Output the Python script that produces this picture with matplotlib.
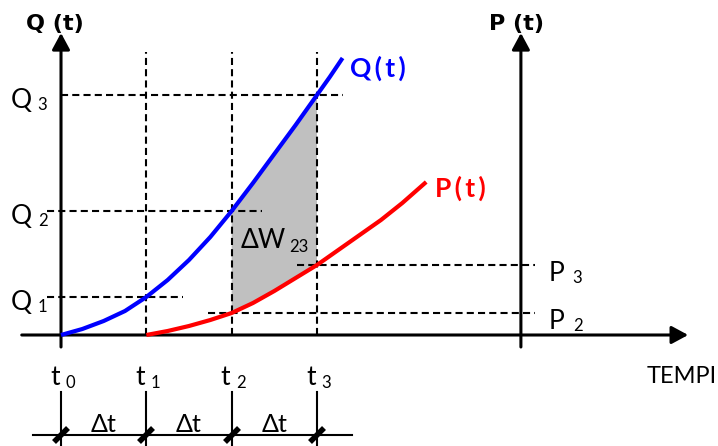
import numpy as np
import matplotlib.pyplot as plt
from matplotlib.markers import MarkerStyle
from matplotlib.transforms import Affine2D

plt.rcParams['font.family'] = ['Lato', 'DejaVu Sans']

# time instants (in units of dt) and their names
t_pos = [0, 1, 2, 3]
t_names = ['0', '1', '2', '3']

# Q(t)
q_t = [0, 0.25, 0.5, 0.75, 1.0, 1.25, 1.5, 1.75, 2.0, 2.25, 2.5, 2.75, 3.0, 3.15, 3.30]
q_val = [0, 0.06, 0.14, 0.24, 0.38, 0.55, 0.75, 0.98, 1.24, 1.52, 1.81, 2.10, 2.40,
         2.58, 2.77]

# P(t) starts at t1
p_t = [1.0, 1.25, 1.5, 1.75, 2.0, 2.25, 2.5, 2.75, 3.0, 3.25, 3.5, 3.75, 4.0, 4.28]
p_val = [0, 0.04, 0.09, 0.15, 0.22, 0.32, 0.44, 0.57, 0.70, 0.85, 1.0, 1.15, 1.32, 1.53]

q_levels = [0.38, 1.24, 2.40]   # Q1, Q2, Q3
p_levels = [0.22, 0.70]         # P2, P3

t_paxis = 5.39  # where the P(t) axis stands

fig = plt.figure(figsize=(7.18, 4.46), dpi=100)
ax = fig.add_axes([0, 0, 1, 1])
ax.set_xlim(-0.715, 7.70)
ax.set_ylim(-1.11, 3.35)
ax.axis('off')

arrow = dict(arrowstyle='-|>,head_length=0.5,head_width=0.27', lw=2.2,
             color='black', mutation_scale=20, shrinkA=0, shrinkB=0)
# axes with arrows
ax.annotate('', xy=(7.35, 0), xytext=(-0.46, 0), arrowprops=arrow)
ax.annotate('', xy=(0, 3.02), xytext=(0, -0.12), arrowprops=arrow)
ax.annotate('', xy=(t_paxis, 3.02), xytext=(t_paxis, -0.12), arrowprops=arrow)

dash = dict(color='black', lw=1.5, ls=(0, (3.4, 2.0)))
# vertical guides at t1..t3
for t in t_pos[1:]:
    ax.plot([t, t], [0, 2.83], **dash)
# Q levels
ax.plot([-0.16, 1.43], [q_levels[0]] * 2, **dash)
ax.plot([-0.16, 2.36], [q_levels[1]] * 2, **dash)
ax.plot([0, 3.30], [q_levels[2]] * 2, **dash)
# P levels
ax.plot([1.72, 5.56], [p_levels[0]] * 2, **dash)
ax.plot([2.77, 5.56], [p_levels[1]] * 2, **dash)

# energy between t2 and t3
q_t_a, q_val_a = np.array(q_t), np.array(q_val)
p_t_a, p_val_a = np.array(p_t), np.array(p_val)
mq = (q_t_a >= 2) & (q_t_a <= 3)
mp = (p_t_a >= 2) & (p_t_a <= 3)
xs = np.concatenate([q_t_a[mq], p_t_a[mp][::-1]])
ys = np.concatenate([q_val_a[mq], p_val_a[mp][::-1]])
ax.fill(xs, ys, color='#c0c0c0', lw=0, zorder=1)

ax.plot(q_t, q_val, color='#0000ff', lw=3, solid_capstyle='butt', zorder=3)
ax.plot(p_t, p_val, color='#ff0000', lw=3, solid_capstyle='butt', zorder=3)

# curve names
ths = '\u2009'
ax.text(3.39, 2.58, ths.join('Q(t)'), color='#0000ff', fontsize=19, fontweight='bold')
ax.text(4.38, 1.38, ths.join('P(t)'), color='#ff0000', fontsize=19, fontweight='bold')

# axis titles
ax.text(-0.41, 3.05, 'Q (t)', fontsize=16, fontweight='bold', family='DejaVu Sans')
ax.text(5.02, 3.05, 'P (t)', fontsize=16, fontweight='bold', family='DejaVu Sans')
ax.text(7.69, -0.48, 'TEMPI', fontsize=17, ha='right')


def sub_label(x, y, main, sub, dx=15, dy=-1.5, size=19):
    ax.annotate(main, (x, y), ha='center', va='baseline', fontsize=size)
    ax.annotate(sub, (x, y), xytext=(dx, dy), textcoords='offset points',
                ha='center', va='baseline', fontsize=12)


for i, lv in enumerate(q_levels):
    sub_label(-0.46, lv - 0.13, 'Q', str(i + 1))
for name, lv in zip(['2', '3'], p_levels):
    sub_label(5.81, lv - 0.16, 'P', name)

ax.text(2.10, 0.87, '\u0394W', fontsize=19, va='baseline')
ax.text(2.68, 0.83, '23', fontsize=12, va='baseline')

# time scale below the chart
for t, name in zip(t_pos, t_names):
    sub_label(t - 0.07, -0.50, 't', name, dx=11, dy=-2)
    ax.plot([t, t], [-0.57, -1.11], color='black', lw=1.5)
ax.plot([-0.33, 3.41], [-1.0, -1.0], color='black', lw=1.5)
slash = MarkerStyle('|', transform=Affine2D().rotate_deg(-45))
ax.plot(t_pos, [-1.0] * len(t_pos), ls='none', marker=slash, ms=15, mew=4,
        color='black')
for a, b in zip(t_pos[:-1], t_pos[1:]):
    ax.text((a + b) / 2, -0.97, '\u0394t', fontsize=18, ha='center', va='baseline')

fig.savefig('out.png', dpi=100)
